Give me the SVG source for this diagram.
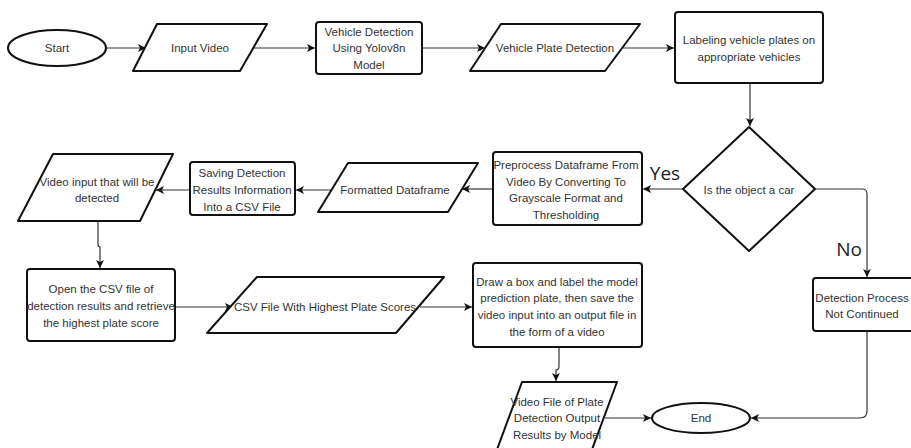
<svg xmlns="http://www.w3.org/2000/svg" width="911" height="448" viewBox="0 0 911 448">
<defs>
<marker id="arr" markerWidth="10" markerHeight="10" refX="8" refY="4" orient="auto" markerUnits="userSpaceOnUse">
<path d="M0,0 L8,4 L0,8 L2,4 Z" fill="#111"/>
</marker>
<style>
.n{fill:#fff;stroke:#111;stroke-width:2;stroke-linejoin:round}
.c{fill:none;stroke:#333;stroke-width:1.2;marker-end:url(#arr)}
.t{font-family:"Liberation Sans",Arial,sans-serif;font-size:11.5px;fill:#333;text-anchor:middle}
.lb{font-family:"Open Sans","Liberation Sans",sans-serif;font-size:19px;fill:#222;text-anchor:middle}
</style>
</defs>
<rect width="911" height="448" fill="#fff"/>
<g id="connectors">
<path class="c" d="M106,48 H146"/>
<path class="c" d="M254,48 H315"/>
<path class="c" d="M422,48 H485"/>
<path class="c" d="M622,48 H674"/>
<path class="c" d="M750,83 V126"/>
<path class="c" d="M683,189 H643"/>
<path class="c" d="M815,189 H862 Q867,189 867,194 V277"/>
<path class="c" d="M493,189 H462"/>
<path class="c" d="M331,190 H296"/>
<path class="c" d="M190,190 H156"/>
<path class="c" d="M98,221 V244 Q98,247 100,247 V268"/>
<path class="c" d="M175,307 H233"/>
<path class="c" d="M420,307 H472"/>
<path class="c" d="M559,347 V366 Q559,370 556,370 V381"/>
<path class="c" d="M605,418 H651"/>
<path class="c" d="M867,331 V411 Q867,418 860,418 H751"/>
</g>
<g id="start">
<ellipse class="n" cx="57" cy="48" rx="49" ry="18"/>
<text class="t" x="57" y="52">Start</text>
</g>
<g id="input-video">
<path class="n" d="M157,24 H267 L240,71 H133 Z"/>
<text class="t" x="200" y="52">Input Video</text>
</g>
<g id="vehicle-detection">
<rect class="n" x="316" y="22" width="106" height="52" rx="3"/>
<text class="t" x="369" y="36">Vehicle Detection</text>
<text class="t" x="369" y="52">Using Yolov8n</text>
<text class="t" x="369" y="69">Model</text>
</g>
<g id="plate-detection">
<path class="n" d="M501,24 H640 L605,71 H470 Z"/>
<text class="t" x="555" y="52">Vehicle Plate Detection</text>
</g>
<g id="labeling">
<rect class="n" x="675" y="12" width="148" height="71" rx="3"/>
<text class="t" x="749" y="44">Labeling vehicle plates on</text>
<text class="t" x="749" y="61">appropriate vehicles</text>
</g>
<g id="decision">
<path class="n" d="M749,127 L815,189 L749,251 L683,189 Z"/>
<text class="t" x="749" y="194">Is the object a car</text>
</g>
<text class="lb" x="665" y="180">Yes</text>
<text class="lb" x="849" y="256">No</text>
<g id="preprocess">
<rect class="n" x="493" y="152" width="149" height="73" rx="3"/>
<text class="t" x="566" y="169">Preprocess Dataframe From</text>
<text class="t" x="566" y="186">Video By Converting To</text>
<text class="t" x="566" y="202">Grayscale Format and</text>
<text class="t" x="566" y="219">Thresholding</text>
</g>
<g id="formatted">
<path class="n" d="M348,163 H478 L448,212 H318 Z"/>
<text class="t" x="395" y="194">Formatted Dataframe</text>
</g>
<g id="saving">
<rect class="n" x="190" y="162" width="105" height="53" rx="3"/>
<text class="t" x="242" y="177">Saving Detection</text>
<text class="t" x="242" y="194">Results Information</text>
<text class="t" x="242" y="211">Into a CSV File</text>
</g>
<g id="video-input">
<path class="n" d="M53,154 H173 L140,221 H18 Z"/>
<text class="t" x="97" y="186">Video input that will be</text>
<text class="t" x="97" y="202">detected</text>
</g>
<g id="open-csv">
<rect class="n" x="27" y="269" width="148" height="72" rx="3"/>
<text class="t" x="101" y="293">Open the CSV file of</text>
<text class="t" x="101" y="310">detection results and retrieve</text>
<text class="t" x="101" y="327">the highest plate score</text>
</g>
<g id="csv-highest">
<path class="n" d="M257,277 H444 L396,333 H207 Z"/>
<text class="t" x="325" y="311">CSV File With Highest Plate Scores</text>
</g>
<g id="draw-box">
<rect class="n" x="473" y="263" width="169" height="84" rx="3"/>
<text class="t" x="557" y="286">Draw a box and label the model</text>
<text class="t" x="557" y="302">prediction plate, then save the</text>
<text class="t" x="557" y="319">video input into an output file in</text>
<text class="t" x="557" y="336">the form of a video</text>
</g>
<g id="video-file">
<path class="n" d="M522,382 H617 L590,455 H495 Z"/>
<text class="t" x="557" y="406">Video File of Plate</text>
<text class="t" x="557" y="422">Detection Output</text>
<text class="t" x="557" y="439">Results by Model</text>
</g>
<g id="end">
<ellipse class="n" cx="701" cy="418" rx="49" ry="15"/>
<text class="t" x="701" y="422">End</text>
</g>
<g id="not-continued">
<rect class="n" x="813" y="278" width="108" height="53" rx="3"/>
<text class="t" x="862" y="302">Detection Process</text>
<text class="t" x="862" y="318">Not Continued</text>
</g>
</svg>
